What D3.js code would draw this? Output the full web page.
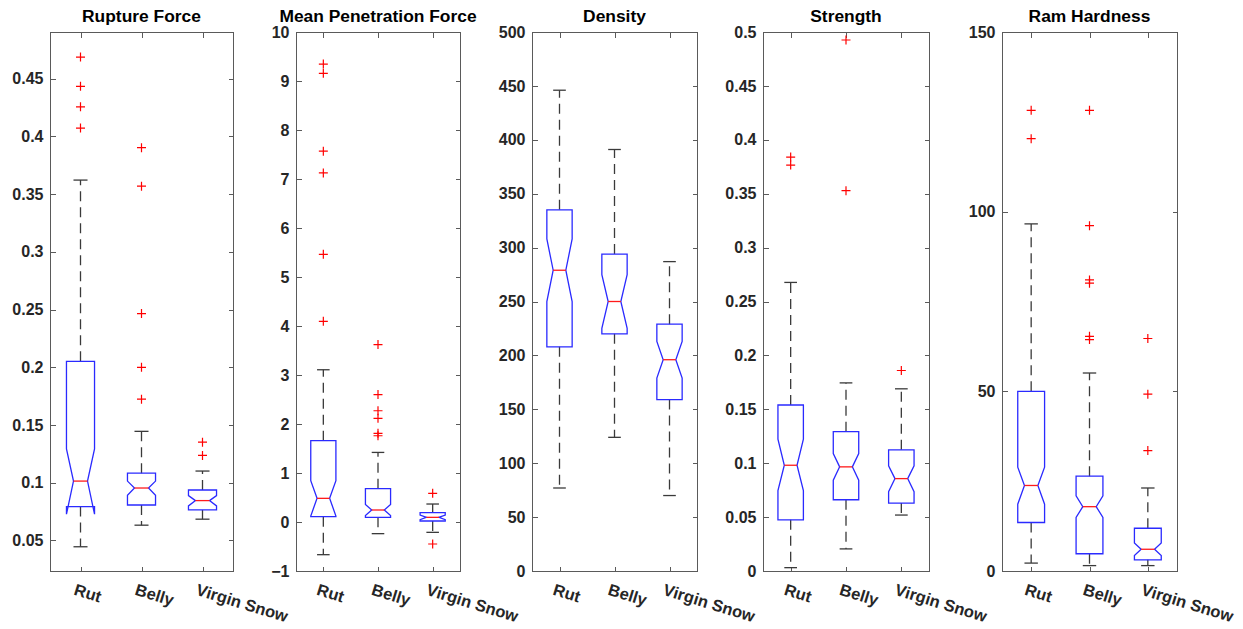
<!DOCTYPE html>
<html>
<head>
<meta charset="utf-8">
<script src="https://cdn.jsdelivr.net/npm/d3@7"></script>
<style>
html,body{margin:0;padding:0;background:#fff;}
svg{display:block;font-family:"Liberation Sans",Arial,Helvetica,sans-serif;}
</style>
</head>
<body>
<svg id="chart" width="1243" height="629"></svg>
<script>
// ---------------- DATA ----------------
const categories = ["Rut", "Belly", "Virgin Snow"];
const panelTitles = ["Rupture Force", "Mean Penetration Force", "Density", "Strength", "Ram Hardness"];

// each row: [whiskerLow, q1, notchLow, median, notchHigh, q3, whiskerHigh]
const ruptureForceBoxes = [
  [0.0445, 0.0793, 0.0727, 0.1014, 0.1293, 0.2052, 0.3622],
  [0.0632, 0.0807, 0.0891, 0.0954, 0.1014, 0.1083, 0.1445],
  [0.0684, 0.0764, 0.0799, 0.0845, 0.0888, 0.0937, 0.1101]
];
const ruptureForceOutliers = [
  [0.4688, 0.4434, 0.4257, 0.4073],
  [0.3903, 0.3569, 0.2465, 0.2000, 0.1724],
  [0.1351, 0.1236]
];

const penetrationBoxes = [
  [-0.667, 0.109, 0.122, 0.483, 0.844, 1.66, 3.107],
  [-0.238, 0.095, 0.130, 0.245, 0.360, 0.68, 1.42],
  [-0.211, 0.020, 0.048, 0.095, 0.143, 0.19, 0.367]
];
const penetrationOutliers = [
  [9.345, 9.156, 7.567, 7.125, 5.463, 4.095],
  [3.62, 2.60, 2.27, 2.116, 1.81, 1.76],
  [0.585, -0.449]
];

const densityBoxes = [
  [77, 208, 250, 279, 308, 335, 446],
  [124, 220, 225, 250, 275, 294, 391],
  [70, 159, 179, 196, 213, 229, 287]
];
const densityOutliers = [[], [], []];

const strengthBoxes = [
  [0.0031, 0.0475, 0.0745, 0.0981, 0.1224, 0.1540, 0.2677],
  [0.0205, 0.0661, 0.0842, 0.0966, 0.1090, 0.1292, 0.1745],
  [0.0519, 0.0630, 0.0736, 0.0857, 0.0975, 0.1124, 0.1690]
];
const strengthOutliers = [
  [0.384, 0.3766],
  [0.4926, 0.3528],
  [0.186]
];

const ramBoxes = [
  [2.2, 13.5, 18.6, 23.8, 28.9, 50.0, 96.6],
  [1.5, 4.8, 14.9, 17.9, 20.9, 26.4, 55.1],
  [1.5, 3.1, 4.3, 6.05, 7.8, 11.9, 23.1]
];
const ramOutliers = [
  [128.2, 120.3],
  [128.2, 96.1, 81.0, 80.1, 65.3, 64.4],
  [64.7, 49.2, 33.5]
];

const ruptureForceTicks = [0.05, 0.1, 0.15, 0.2, 0.25, 0.3, 0.35, 0.4, 0.45];
const penetrationTicks = [-1, 0, 1, 2, 3, 4, 5, 6, 7, 8, 9, 10];
const densityTicks = [0, 50, 100, 150, 200, 250, 300, 350, 400, 450, 500];
const strengthTicks = [0, 0.05, 0.1, 0.15, 0.2, 0.25, 0.3, 0.35, 0.4, 0.45, 0.5];
const ramTicks = [0, 50, 100, 150];

const ruptureForceRange = [0.0235, 0.4905];
const penetrationRange = [-1, 10];
const densityRange = [0, 500];
const strengthRange = [0, 0.5];
const ramRange = [0, 150];

// ---------------- LAYOUT ----------------
const panelX = [[50, 233], [296, 460], [532, 697], [763, 929], [1002, 1177]];
const plotTop = 32, plotBottom = 571;

const panels = [
  {title: panelTitles[0], boxes: ruptureForceBoxes, outliers: ruptureForceOutliers, domain: ruptureForceRange, ticks: ruptureForceTicks},
  {title: panelTitles[1], boxes: penetrationBoxes, outliers: penetrationOutliers, domain: penetrationRange, ticks: penetrationTicks},
  {title: panelTitles[2], boxes: densityBoxes, outliers: densityOutliers, domain: densityRange, ticks: densityTicks},
  {title: panelTitles[3], boxes: strengthBoxes, outliers: strengthOutliers, domain: strengthRange, ticks: strengthTicks},
  {title: panelTitles[4], boxes: ramBoxes, outliers: ramOutliers, domain: ramRange, ticks: ramTicks}
];

const svg = d3.select("#chart");
const axisColor = "#5a5a5a";
const textColor = "#262626";
const whiskerColor = "#3a3a3a";
const fmt = d3.format("~g");

panels.forEach((p, pi) => {
  const [x0, x1] = panelX[pi];
  const x = d3.scaleLinear().domain([0.5, 3.5]).range([x0, x1]);
  const y = d3.scaleLinear().domain(p.domain).range([plotBottom, plotTop]);
  const g = svg.append("g");

  // frame
  g.append("rect").attr("x", x0 + 0.5).attr("y", plotTop + 0.5)
    .attr("width", x1 - x0).attr("height", plotBottom - plotTop)
    .attr("fill", "none").attr("stroke", axisColor).attr("stroke-width", 1);

  const styleAxis = sel => {
    sel.attr("font-family", null).attr("font-size", null);
    sel.select(".domain").remove();
    sel.selectAll(".tick line").attr("stroke", axisColor).attr("shape-rendering", "crispEdges");
  };

  // left axis with labels
  const left = g.append("g").attr("transform", `translate(${x0 + 0.5},0)`)
    .call(d3.axisLeft(y).tickValues(p.ticks).tickSize(-5).tickPadding(7).tickFormat(fmt));
  styleAxis(left);
  left.selectAll(".tick text").attr("fill", textColor)
    .style("font-size", "16px").style("font-weight", "bold");

  // right axis ticks
  const right = g.append("g").attr("transform", `translate(${x1 + 0.5},0)`)
    .call(d3.axisRight(y).tickValues(p.ticks).tickSize(-5).tickFormat(""));
  styleAxis(right);

  // top axis ticks
  const top = g.append("g").attr("transform", `translate(0,${plotTop + 0.5})`)
    .call(d3.axisTop(x).tickValues([1, 2, 3]).tickSize(-5).tickFormat(""));
  styleAxis(top);

  // bottom axis with rotated labels
  const bottom = g.append("g").attr("transform", `translate(0,${plotBottom + 0.5})`)
    .call(d3.axisBottom(x).tickValues([1, 2, 3]).tickSize(-5).tickFormat((d, i) => categories[i]));
  styleAxis(bottom);
  bottom.selectAll(".tick text")
    .attr("x", 0).attr("y", 0).attr("dy", null)
    .attr("text-anchor", "start")
    .attr("transform", "translate(-8,23) rotate(17)")
    .attr("fill", textColor)
    .style("font-size", "16.5px").style("font-weight", "bold");

  // title
  g.append("text").attr("x", (x0 + x1) / 2).attr("y", 22)
    .attr("text-anchor", "middle").attr("fill", "#000")
    .style("font-size", "17.4px").style("font-weight", "bold")
    .text(p.title);

  const unitPx = x(2) - x(1);
  const hw = unitPx * 0.23;

  p.boxes.forEach((b, ci) => {
    const [wLo, q1, nLo, med, nHi, q3, wHi] = b;
    const xc = x(ci + 1);
    // whiskers
    g.append("line").attr("x1", xc).attr("x2", xc).attr("y1", y(q3)).attr("y2", y(wHi))
      .attr("stroke", whiskerColor).attr("stroke-width", 1.3).attr("stroke-dasharray", "10,6");
    g.append("line").attr("x1", xc).attr("x2", xc).attr("y1", y(q1)).attr("y2", y(wLo))
      .attr("stroke", whiskerColor).attr("stroke-width", 1.3).attr("stroke-dasharray", "10,6");
    // caps
    [wLo, wHi].forEach(v => {
      g.append("line").attr("x1", xc - hw / 2).attr("x2", xc + hw / 2)
        .attr("y1", y(v)).attr("y2", y(v)).attr("stroke", whiskerColor).attr("stroke-width", 1.3);
    });
    // notched box
    const pts = [
      [xc - hw, y(q3)], [xc - hw, y(nHi)], [xc - hw / 2, y(med)], [xc - hw, y(nLo)], [xc - hw, y(q1)],
      [xc + hw, y(q1)], [xc + hw, y(nLo)], [xc + hw / 2, y(med)], [xc + hw, y(nHi)], [xc + hw, y(q3)]
    ];
    g.append("path").attr("d", d3.line()(pts) + "Z")
      .attr("fill", "none").attr("stroke", "#2a2aff").attr("stroke-width", 1.3);
    // median
    g.append("line").attr("x1", xc - hw / 2).attr("x2", xc + hw / 2)
      .attr("y1", y(med)).attr("y2", y(med)).attr("stroke", "#ff1a1a").attr("stroke-width", 1.3);
    // outliers
    p.outliers[ci].forEach(v => {
      const yy = y(v);
      g.append("path").attr("d", `M${xc - 4.5},${yy}H${xc + 4.5}M${xc},${yy - 4.5}V${yy + 4.5}`)
        .attr("stroke", "#ff0000").attr("stroke-width", 1.2).attr("fill", "none");
    });
  });
});
</script>
</body>
</html>
